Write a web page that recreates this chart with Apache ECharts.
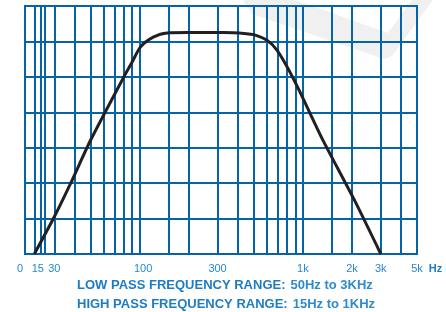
<!DOCTYPE html>
<html>
<head>
<meta charset="utf-8">
<script src="https://cdn.jsdelivr.net/npm/echarts@6/dist/echarts.min.js"></script>
<style>
html, body { margin: 0; padding: 0; background: #fff; }
#chart { width: 446px; height: 312px; }
</style>
</head>
<body>
<div id="chart"></div>
<script>
// response curve (Hz / grid divisions above the floor)
const curveFreq = [15, 30, 38, 50, 80, 90, 101, 121, 147, 200, 327, 450, 500, 603, 695, 801, 949, 1314, 2058, 3000];
const curveLevel = [0, 1.05, 2.02, 3.21, 5.0, 5.42, 5.84, 6.12, 6.24, 6.25, 6.25, 6.22, 6.19, 6.03, 5.75, 5.28, 4.62, 3.25, 1.54, 0];

// vertical grid lines (Hz)
const gridFreq = [15, 20, 23, 30, 40, 50, 60, 70, 80, 90, 100, 150, 200, 300, 400, 500, 600, 700, 800, 900, 1000, 1500, 2000, 3000, 4000];

// tick labels
const tickFreq = [0, 15, 30, 100, 300, 1000, 2000, 3000, 5000];
const tickText = ['0', '15', '30', '100', '300', '1k', '2k', '3k', '5k'];

// the drawing is log from 30 Hz up, squeezed linear below that
function xPos (f) {
  if (f >= 30) return Math.log10(f);
  if (f <= 15) return 1.2975 + (1.3546 - 1.2975) * f / 15;
  return 1.3546 + (Math.log10(30) - 1.3546) * (f - 15) / 15;
}

const gridBlue = '#0563a8';
const textBlue = '#2388d2';
const titleRich = {
  b: { fontFamily: 'Liberation Sans', fontWeight: 'bold', fontSize: 13, color: '#1d7cc6' },
  r: { fontFamily: 'Liberation Sans', fontWeight: 'bold', fontSize: 13, color: '#2f8ad0' }
};

const tickPos = tickFreq.map(xPos);
const myChart = echarts.init(document.getElementById('chart'));
const option = {
  animation: false,
  graphic: [{
    type: 'polygon',
    z: -100,
    silent: true,
    shape: { points: [[243, 0], [252, 14], [384, 59], [392, 56], [433, 0], [412, 0], [388, 33], [295, 0]] },
    style: { fill: '#f0f0f0' }
  }],
  title: [
    {
      text: '{b|LOW PASS FREQUENCY RANGE:} {r|50Hz to 3KHz}',
      left: 77,
      top: 276,
      padding: 0,
      textStyle: { rich: titleRich }
    },
    {
      text: '{b|HIGH PASS FREQUENCY RANGE:} {r|15Hz to 1KHz}',
      left: 77,
      top: 295,
      padding: 0,
      textStyle: { rich: titleRich }
    }
  ],
  grid: {
    left: 25,
    right: 29,
    top: 6,
    bottom: 58,
    show: true,
    borderColor: gridBlue,
    borderWidth: 2,
    backgroundColor: 'transparent'
  },
  xAxis: {
    type: 'value',
    min: xPos(0),
    max: xPos(5000),
    name: 'Hz',
    nameLocation: 'end',
    nameGap: 9,
    nameTextStyle: {
      fontFamily: 'Liberation Sans',
      fontWeight: 'bold',
      fontSize: 11,
      color: '#1d7cc6',
      verticalAlign: 'top',
      padding: [9, 0, 0, 0]
    },
    axisLine: { show: false },
    axisTick: { show: false, customValues: gridFreq.map(xPos) },
    splitLine: { show: true, lineStyle: { color: gridBlue, width: 2 } },
    axisLabel: {
      customValues: tickPos,
      margin: 9,
      fontFamily: 'Liberation Sans',
      fontSize: 11,
      color: textBlue,
      formatter: function (v) {
        for (let i = 0; i < tickPos.length; i++) {
          if (Math.abs(tickPos[i] - v) < 1e-6) {
            if (i === 0) return '{l|' + tickText[i] + '}';
            if (i === 1 || i === 3) return '{s|' + tickText[i] + '}';
            return tickText[i];
          }
        }
        return '';
      },
      rich: {
        l: { fontFamily: 'Liberation Sans', fontSize: 11, color: textBlue, padding: [0, 10, 0, 0] },
        s: { fontFamily: 'Liberation Sans', fontSize: 11, color: textBlue, padding: [0, 0, 0, 7] }
      }
    }
  },
  yAxis: {
    type: 'value',
    min: 0,
    max: 7,
    interval: 1,
    axisLine: { show: false },
    axisTick: { show: false },
    axisLabel: { show: false },
    splitLine: { show: true, lineStyle: { color: gridBlue, width: 2 } }
  },
  series: [
    {
      type: 'line',
      data: curveFreq.map((f, i) => [xPos(f), curveLevel[i]]),
      smooth: 0.25,
      symbol: 'none',
      lineStyle: { color: '#231f20', width: 3 },
      z: 5
    }
  ]
};
myChart.setOption(option);
</script>
</body>
</html>
